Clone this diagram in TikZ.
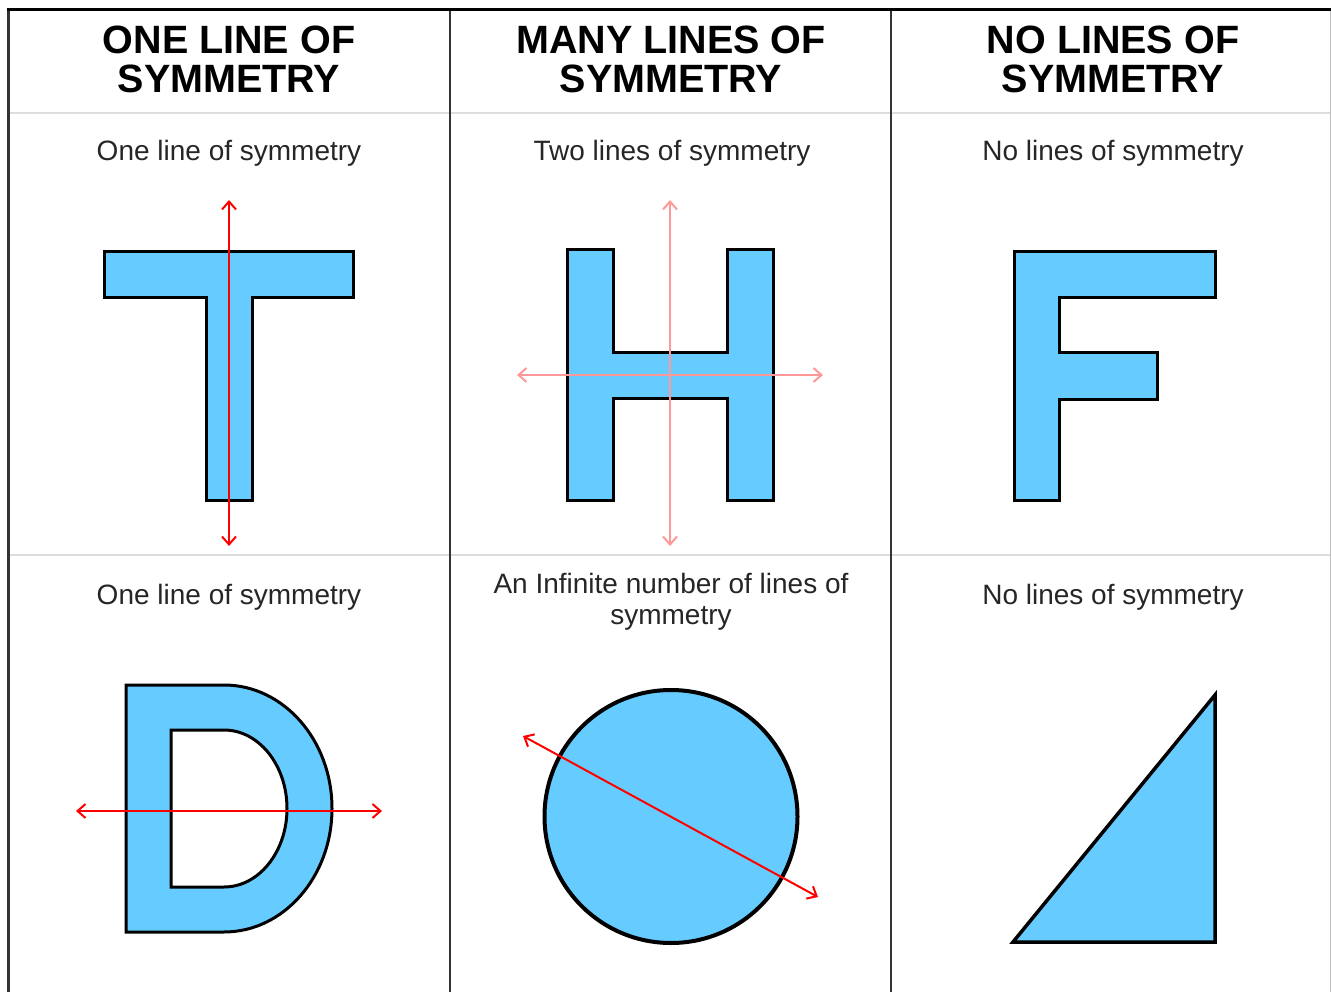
\documentclass[tikz,border=0pt]{standalone}
\usepackage{fontspec}
\setmainfont{Liberation Sans}
\usetikzlibrary{arrows.meta}
\definecolor{shapeblue}{HTML}{66CCFF}
\definecolor{symred}{HTML}{FF0000}
\definecolor{sympink}{HTML}{FF9999}
\definecolor{gridgray}{HTML}{DDDDDD}
\definecolor{divgray}{HTML}{333333}
\tikzset{
  header/.style={font=\fontsize{39.5}{39}\selectfont\bfseries, anchor=base, inner sep=0pt, text=black},
  caption/.style={font=\fontsize{28}{31}\selectfont, anchor=base, inner sep=0pt, text=black!85},
  letter/.style={fill=shapeblue, draw=black, line width=3pt, line join=miter},
  symline/.style={draw=symred, line width=2pt, {Straight Barb[length=8pt,width=14pt]}-{Straight Barb[length=8pt,width=14pt]}},
  symlinepink/.style={symline, draw=sympink}
}
\begin{document}
\begin{tikzpicture}[x=1pt,y=-1pt]
\useasboundingbox (0,0) rectangle (1331,992);
\fill[white] (0,0) rectangle (1331,992);
% grid
\draw[gridgray, line width=2pt] (8,113) -- (1331,113);
\draw[gridgray, line width=2pt] (8,555) -- (1331,555);
\draw[black!25, line width=1pt] (1330,9) -- (1330,992);
\draw[divgray, line width=2pt] (449.5,9) -- (449.5,992);
\draw[divgray, line width=2pt] (890.5,9) -- (890.5,992);
\draw[divgray, line width=2.5pt] (8.5,9) -- (8.5,992);
\draw[black, line width=3pt] (7,9.5) -- (1331,9.5);
% headers
\node[header] (h1a) at (229,54) {ONE LINE OF};
\node[header] (h1b) at (229,93) {SYMMETRY};
\node[header] (h2a) at (671,54) {MANY LINES OF};
\node[header] (h2b) at (671,93) {SYMMETRY};
\node[header] (h3a) at (1113,54) {NO LINES OF};
\node[header] (h3b) at (1113,93) {SYMMETRY};
% captions row 1
\node[caption] (c1) at (229,161) {One line of symmetry};
\node[caption] (c2) at (672,161) {Two lines of symmetry};
\node[caption] (c3) at (1113,161) {No lines of symmetry};
% captions row 2
\node[caption] (c4) at (229,604) {One line of symmetry};
\node[caption] (c5a) at (671,593) {An Infinite number of lines of};
\node[caption] (c5b) at (671,624) {symmetry};
\node[caption] (c6) at (1113,604) {No lines of symmetry};
% T
\path[letter] (104,252) -- (353,252) -- (353,298) -- (252,298) -- (252,500) -- (206,500) -- (206,298) -- (104,298) -- cycle;
\coordinate (t1) at (229,200);
\coordinate (t2) at (229,546);
\draw[symline] (t1) -- (t2);
% H
\path[letter] (567,250) -- (613,250) -- (613,353) -- (727,353) -- (727,250) -- (773,250) -- (773,500) -- (727,500) -- (727,398) -- (613,398) -- (613,500) -- (567,500) -- cycle;
\coordinate (hv1) at (670,200);
\coordinate (hv2) at (670,546);
\coordinate (hh1) at (517,375);
\coordinate (hh2) at (823,375);
\draw[symlinepink] (hv1) -- (hv2);
\draw[symlinepink] (hh1) -- (hh2);
% F
\path[letter] (1014,252) -- (1215,252) -- (1215,298) -- (1059,298) -- (1059,353) -- (1157,353) -- (1157,399) -- (1059,399) -- (1059,500) -- (1014,500) -- cycle;
% D
\path[letter, even odd rule] (126,685) -- (224,685) arc[start angle=-90, end angle=90, x radius=108, y radius=123.5] -- (126,932) -- cycle
  (171,730) -- (224,730) arc[start angle=-90, end angle=90, x radius=63, y radius=78.5] -- (171,887) -- cycle;
\coordinate (d1) at (76,811);
\coordinate (d2) at (382,811);
\draw[symline] (d1) -- (d2);
% circle
\path[letter, line width=4pt] (671,816.5) circle[radius=126.5];
\coordinate (o1) at (523,736);
\coordinate (o2) at (818,897);
\draw[symline] (o1) -- (o2);
% triangle
\path[letter, line width=3.5pt] (1013,942) -- (1215,695) -- (1215,942) -- cycle;
\end{tikzpicture}
\end{document}
